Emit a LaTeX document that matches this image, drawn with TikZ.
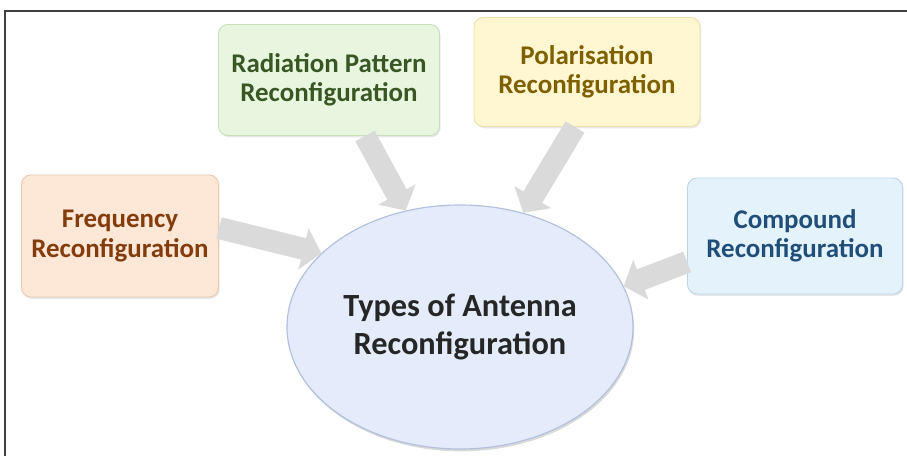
\documentclass[tikz,border=0pt]{standalone}
\usepackage{fontspec}
\setmainfont{Carlito}
\usetikzlibrary{calc,shadows,arrows.meta,shapes.geometric}

\definecolor{freqfill}{RGB}{253,231,215}
\definecolor{freqline}{RGB}{238,200,172}
\definecolor{freqtext}{RGB}{132,60,12}
\definecolor{radfill}{RGB}{232,246,224}
\definecolor{radline}{RGB}{200,224,186}
\definecolor{radtext}{RGB}{56,87,35}
\definecolor{polfill}{RGB}{255,247,210}
\definecolor{polline}{RGB}{238,222,170}
\definecolor{poltext}{RGB}{127,96,0}
\definecolor{compfill}{RGB}{228,242,252}
\definecolor{compline}{RGB}{190,212,232}
\definecolor{comptext}{RGB}{31,78,121}
\definecolor{hubfill}{RGB}{228,236,251}
\definecolor{hubline}{RGB}{178,192,222}
\definecolor{arrowfill}{RGB}{218,218,218}

\begin{document}
\begin{tikzpicture}[x=0.03cm, y=-0.03cm,
  optbox/.style={rounded corners=8pt, align=center, line width=0.8pt,
    drop shadow={opacity=0.18, shadow xshift=1pt, shadow yshift=-1.5pt},
    font=\fontsize{23}{25}\selectfont\bfseries},
  hub/.style={ellipse, align=center, line width=1pt, draw=hubline, fill=hubfill,
    drop shadow={opacity=0.3, shadow xshift=1pt, shadow yshift=-2pt},
    minimum width=10.38cm, minimum height=7.32cm,
    font=\fontsize{27.6}{32.5}\selectfont\bfseries},
  blockarrow/.style={line width=0.66cm, draw=arrowfill,
    -{Triangle[length=0.55cm, width=1.25cm]}}]
  \useasboundingbox (0,0) rectangle (907,456);
  % frame of the slide
  \draw[line width=1.2pt, black!75] (5,456) -- (5,11) -- (907,11);

  % centre ellipse and the four kinds around it
  \node[hub, text=black!85] (hub) at (460,327) {Types of Antenna\\Reconfiguration};
  \node[optbox, fill=freqfill, draw=freqline, text=freqtext,
    minimum width=5.91cm, minimum height=3.66cm] (freq) at (120,236) {Frequency\\Reconfiguration};
  \node[optbox, fill=radfill, draw=radline, text=radtext,
    minimum width=6.63cm, minimum height=3.33cm] (rad) at (329,80) {Radiation Pattern\\Reconfiguration};
  \node[optbox, fill=polfill, draw=polline, text=poltext,
    minimum width=6.78cm, minimum height=3.27cm] (pol) at (587,72) {Polarisation\\Reconfiguration};
  \node[optbox, fill=compfill, draw=compline, text=comptext,
    minimum width=6.45cm, minimum height=3.48cm] (comp) at (795,236) {Compound\\Reconfiguration};

  % block arrows into the ellipse
  \draw[blockarrow] ($(freq.east)+(0,-8)$) -- (hub.152.8);
  \draw[blockarrow] ($(rad.south)+(36,0)$) -- (hub.115.6);
  \draw[blockarrow] ($(pol.south)+(-12,0)$) -- (hub.61.8);
  \draw[blockarrow] ($(comp.west)+(0,26)$) -- (hub.14);
\end{tikzpicture}
\end{document}
